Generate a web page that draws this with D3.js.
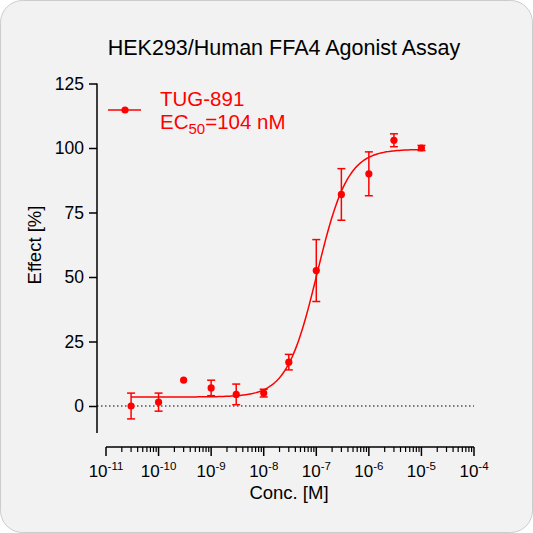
<!DOCTYPE html><html><head><script src="https://cdn.jsdelivr.net/npm/d3@7"></script>
<style>body{margin:0;background:#fff}svg{font-family:Arial,"Liberation Sans",sans-serif}</style></head><body>
<svg id="c" width="533" height="533"></svg>
<script>
const conc=[3e-11,1e-10,3e-10,1e-9,3e-9,1e-8,3e-8,1e-7,3e-7,1e-6,3e-6,1e-5];
const effect=[0,1.5,10,7,4.5,5,17,52.5,82,90,103,100];
const err=[5,3.5,0,3,4,1.5,3,12,10,8.5,2.5,1];
const yTicks=[0,25,50,75,100,125];
const xTicks=[-11,-10,-9,-8,-7,-6,-5,-4];
const fit={bottom:3.5,top:99.5,ec50:1.04e-7,hill:1.5};
const svg=d3.select("#c");
svg.append("rect").attr("x",0.5).attr("y",0.5).attr("width",532).attr("height",532).attr("rx",22).attr("fill","#f2f2f2").attr("stroke","#ccc");
const x=d3.scaleLog().domain([1e-11,1e-4]).range([106,474]);
const y=d3.scaleLinear().domain([0,125]).range([406,83.5]);
const red="#f00";
const ya=svg.append("g").attr("transform","translate(97,0)").call(d3.axisLeft(y).tickValues(yTicks).tickSize(8).tickSizeOuter(0));
svg.append("line").attr("x1",97).attr("x2",97).attr("y1",83.5).attr("y2",433).attr("stroke","#000").attr("stroke-width",1.5);
ya.select(".domain").remove();
ya.selectAll("line").attr("stroke-width",1.5);
ya.selectAll("text").attr("font-size",17.5).attr("fill","#000").attr("x",-13);
const minors=[];for(let e=-11;e<-4;e++)for(let k=2;k<10;k++)minors.push(k*Math.pow(10,e));
const xa=svg.append("g").attr("transform","translate(0,447)");
xa.append("line").attr("x1",106).attr("x2",474).attr("stroke","#000").attr("stroke-width",1.5);
xa.selectAll(".mn").data(minors).join("line").attr("x1",d=>x(d)).attr("x2",d=>x(d)).attr("y2",5).attr("stroke","#000").attr("stroke-width",1.2);
xa.selectAll(".mj").data(xTicks).join("line").attr("x1",d=>x(Math.pow(10,d))).attr("x2",d=>x(Math.pow(10,d))).attr("y2",9).attr("stroke","#000").attr("stroke-width",1.5);
const lt=xa.selectAll(".lb").data(xTicks).join("text").attr("x",d=>x(Math.pow(10,d))).attr("y",30).attr("text-anchor","middle").attr("font-size",17);
lt.append("tspan").text("10");
lt.append("tspan").attr("dy",-7).attr("font-size",11.5).text(d=>"-"+(-d));
svg.append("line").attr("x1",97).attr("x2",474).attr("y1",y(0)).attr("y2",y(0)).attr("stroke","#000").attr("stroke-dasharray","1.5,2.5");
const f=c=>fit.bottom+(fit.top-fit.bottom)/(1+Math.pow(fit.ec50/c,fit.hill));
const cs=d3.range(0,201).map(i=>Math.pow(10,Math.log10(conc[0])+i*(Math.log10(conc[conc.length-1])-Math.log10(conc[0]))/200));
svg.append("path").attr("d",d3.line().x(d=>x(d)).y(d=>y(f(d)))(cs)).attr("fill","none").attr("stroke",red).attr("stroke-width",1.5);
const g=svg.append("g");
conc.forEach((c,i)=>{if(err[i]>0){const X=x(c);
g.append("line").attr("x1",X).attr("x2",X).attr("y1",y(effect[i]-err[i])).attr("y2",y(effect[i]+err[i])).attr("stroke",red).attr("stroke-width",1.5);
[effect[i]-err[i],effect[i]+err[i]].forEach(v=>g.append("line").attr("x1",X-4).attr("x2",X+4).attr("y1",y(v)).attr("y2",y(v)).attr("stroke",red).attr("stroke-width",1.5));}
g.append("circle").attr("cx",x(c)).attr("cy",y(effect[i])).attr("r",3.6).attr("fill",red);});
svg.append("line").attr("x1",108).attr("x2",141).attr("y1",110).attr("y2",110).attr("stroke",red).attr("stroke-width",1.5);
svg.append("circle").attr("cx",125).attr("cy",110).attr("r",3.6).attr("fill",red);
svg.append("text").attr("x",160).attr("y",106).attr("font-size",20.5).attr("fill",red).text("TUG-891");
const t2=svg.append("text").attr("x",160).attr("y",129).attr("font-size",20.5).attr("fill",red);
t2.append("tspan").text("EC");t2.append("tspan").attr("dy",5).attr("font-size",15).text("50");t2.append("tspan").attr("dy",-5).text("=104 nM");
svg.append("text").attr("x",284).attr("y",55).attr("text-anchor","middle").attr("font-size",21.5).text("HEK293/Human FFA4 Agonist Assay");
svg.append("text").attr("x",289).attr("y",499).attr("text-anchor","middle").attr("font-size",18.5).text("Conc. [M]");
svg.append("text").attr("transform","translate(41,245) rotate(-90)").attr("text-anchor","middle").attr("font-size",18.5).text("Effect  [%]");
</script></body></html>
